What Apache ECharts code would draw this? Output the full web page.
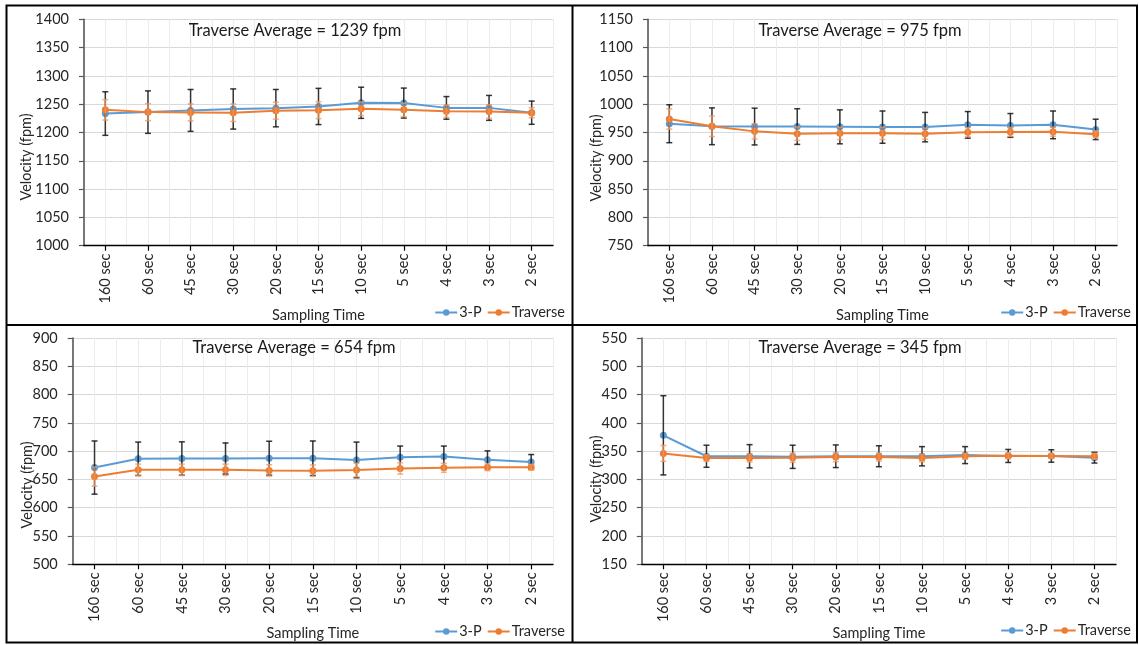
<!DOCTYPE html>
<html>
<head>
<meta charset="utf-8">
<script src="https://cdn.jsdelivr.net/npm/echarts@6/dist/echarts.min.js"></script>
<style>
html,body{margin:0;padding:0;background:#fff;}
#chart{width:1139px;height:645px;}
</style>
</head>
<body>
<div id="chart"></div>
<script>
const categories = ['160 sec','60 sec','45 sec','30 sec','20 sec','15 sec','10 sec','5 sec','4 sec','3 sec','2 sec'];

const titles = ['Traverse Average = 1239 fpm','Traverse Average = 975 fpm','Traverse Average = 654 fpm','Traverse Average = 345 fpm'];
const xAxisName = 'Sampling Time';
const yAxisName = 'Velocity (fpm)';
const seriesNames = ['3-P', 'Traverse'];

const p1ThreeP    = [1233.5, 1236, 1239, 1241.5, 1243, 1246, 1252.5, 1252, 1243.5, 1243.5, 1235];
const p1ThreePErr = [38.5, 37.5, 37, 35.5, 33, 32, 27.5, 26.5, 20, 22, 20.5];
const p1Trav      = [1240, 1236, 1235.5, 1235, 1238.5, 1239.5, 1242, 1240, 1237.5, 1237, 1235];
const p1TravErr   = [18, 15, 15, 15.5, 15, 15, 12, 12, 11, 12, 9];

const p2ThreeP    = [965.5, 961, 960.5, 960.5, 960, 959.5, 959.5, 963.5, 962.5, 963.5, 955.5];
const p2ThreePErr = [33.5, 32.5, 32.5, 31.5, 30, 28.5, 26, 23.5, 21, 24.5, 18];
const p2Trav      = [974, 961, 952, 948, 948.5, 948.5, 948, 950.5, 951, 951.5, 947];
const p2TravErr   = [18, 18, 13.5, 12, 11, 11, 10, 8, 8, 8, 6];

const p3ThreeP    = [671, 686.5, 687, 687, 687.5, 687.5, 684.5, 689, 690.5, 685, 681];
const p3ThreePErr = [47, 29.5, 29.5, 27.5, 30, 30.5, 31.5, 20, 18.5, 15.5, 13];
const p3Trav      = [655, 667, 667, 667, 666, 665.5, 666.5, 669.5, 670.5, 671.5, 671.5];
const p3TravErr   = [17, 10, 10, 10, 10, 10, 12, 10, 8, 6, 5];

const p4ThreeP    = [378, 341, 341, 340, 341, 341, 341, 343, 341.5, 341.5, 338.5];
const p4ThreePErr = [70, 19.5, 20.5, 20.5, 20, 18.5, 17, 15, 11.5, 11, 9.5];
const p4Trav      = [346, 338, 338, 338.5, 339.5, 339.5, 338, 341, 342, 341.5, 341];
const p4TravErr   = [14, 6, 7, 8, 8, 7, 7, 5, 5, 4, 5];

const yMins = [1000, 750, 500, 150];
const yMaxs = [1400, 1150, 900, 550];
const yInterval = 50;

const panels = [
  {tp: p1ThreeP, tpe: p1ThreePErr, tr: p1Trav, tre: p1TravErr},
  {tp: p2ThreeP, tpe: p2ThreePErr, tr: p2Trav, tre: p2TravErr},
  {tp: p3ThreeP, tpe: p3ThreePErr, tr: p3Trav, tre: p3TravErr},
  {tp: p4ThreeP, tpe: p4ThreePErr, tr: p4Trav, tre: p4TravErr}
];

// layout (pixels)
const layout = [
  {left: 84,    top: 19.3, width: 469,   height: 226.4, titleX: 290, titleY: 17,  yNameX: 26,  yNameY: 157, legendRight: 574, legendY: 305},
  {left: 648,   top: 19.3, width: 469,   height: 226.4, titleX: 855, titleY: 17,  yNameX: 596, yNameY: 158, legendRight: 8,   legendY: 305},
  {left: 72.7,  top: 338,  width: 480.3, height: 226.3, titleX: 289, titleY: 334, yNameX: 27,  yNameY: 485, legendRight: 574, legendY: 624},
  {left: 641.8, top: 338,  width: 474.2, height: 226.3, titleX: 855, titleY: 334, yNameX: 596, yNameY: 479, legendRight: 8,   legendY: 623}
];

const BLUE = '#5B9BD5', ORANGE = '#ED7D31';
const FONT = 'Lato, "Open Sans", sans-serif';
const FS = 14.5;

function errRender(color, width, cap) {
  return function (params, api) {
    const x = api.value(0), v = api.value(1), e = api.value(2);
    const hi = api.coord([x, v + e]);
    const lo = api.coord([x, v - e]);
    const st = {stroke: color, lineWidth: width};
    return {
      type: 'group',
      children: [
        {type: 'line', shape: {x1: hi[0], y1: hi[1], x2: lo[0], y2: lo[1]}, style: st},
        {type: 'line', shape: {x1: hi[0] - cap, y1: hi[1], x2: hi[0] + cap, y2: hi[1]}, style: st},
        {type: 'line', shape: {x1: lo[0] - cap, y1: lo[1], x2: lo[0] + cap, y2: lo[1]}, style: st}
      ]
    };
  };
}

const grid = [], xAxis = [], yAxis = [], series = [], title = [], legend = [], graphic = [];

layout.forEach((L, i) => {
  grid.push({left: L.left, top: L.top, width: L.width, height: L.height, containLabel: false});
  xAxis.push({
    type: 'category', gridIndex: i, data: categories, boundaryGap: true,
    name: xAxisName, nameLocation: 'middle', nameGap: 60,
    nameTextStyle: {fontFamily: FONT, fontSize: FS, color: '#262626'},
    axisLine: {show: true, lineStyle: {color: '#000', width: 1.3}},
    axisTick: {show: true, alignWithLabel: true, length: 5, lineStyle: {color: '#000', width: 1.2}},
    axisLabel: {rotate: 90, margin: 8, fontFamily: FONT, fontSize: FS, color: '#262626', interval: 0},
    splitLine: {show: false}, z: 5
  });
  xAxis.push({
    type: 'value', gridIndex: i, min: 0, max: 11, interval: 0.5, position: 'top',
    axisLine: {show: false}, axisTick: {show: false}, axisLabel: {show: false},
    splitLine: {show: true, lineStyle: {color: '#ececec', width: 1}}, z: 0
  });
  yAxis.push({
    type: 'value', gridIndex: i, min: yMins[i], max: yMaxs[i], interval: yInterval,
    axisLine: {show: true, lineStyle: {color: '#595959', width: 1.6}},
    axisTick: {show: true, length: 5, lineStyle: {color: '#595959', width: 1.2}},
    axisLabel: {margin: 15, fontFamily: FONT, fontSize: FS, color: '#262626', formatter: v => String(v)},
    splitLine: {show: true, lineStyle: {color: '#d9d9d9', width: 1}}
  });
  title.push({
    text: titles[i], left: L.titleX, top: L.titleY, textAlign: 'center',
    textStyle: {fontFamily: FONT, fontSize: 16.5, fontWeight: 'normal', color: '#1a1a1a'}
  });
  legend.push({
    data: seriesNames, right: L.legendRight, top: L.legendY, padding: 0,
    itemWidth: 22, itemHeight: 8, itemGap: 5, selectedMode: false,
    textStyle: {fontFamily: FONT, fontSize: FS, color: '#262626', padding: [0, 0, 0, -3]}
  });
  graphic.push({
    type: 'text', x: L.yNameX, y: L.yNameY, rotation: Math.PI / 2,
    style: {text: yAxisName, font: FS + 'px ' + FONT, fill: '#262626', textAlign: 'center', textVerticalAlign: 'middle'}
  });

  const P = panels[i];
  const xi = 2 * i;
  series.push({
    name: seriesNames[0], type: 'line', xAxisIndex: xi, yAxisIndex: i, data: P.tp,
    symbol: 'circle', symbolSize: 7, color: BLUE,
    lineStyle: {width: 2, color: BLUE}, itemStyle: {color: BLUE}, z: 2, animation: false
  });
  series.push({
    name: '3-P err', type: 'custom', xAxisIndex: xi, yAxisIndex: i,
    data: P.tp.map((v, k) => [k, v, P.tpe[k]]),
    renderItem: errRender('rgba(20,20,20,0.85)', 1.5, 3), z: 3, animation: false, silent: true
  });
  series.push({
    name: seriesNames[1], type: 'line', xAxisIndex: xi, yAxisIndex: i, data: P.tr,
    symbol: 'circle', symbolSize: 7, color: ORANGE,
    lineStyle: {width: 2, color: ORANGE}, itemStyle: {color: ORANGE}, z: 4, animation: false
  });
  series.push({
    name: 'Traverse err', type: 'custom', xAxisIndex: xi, yAxisIndex: i,
    data: P.tr.map((v, k) => [k, v, P.tre[k]]),
    renderItem: errRender('rgba(240,150,90,0.75)', 1.5, 3), z: 5, animation: false, silent: true
  });
});

graphic.push(
  {type: 'rect', shape: {x: 6.5, y: 5.5, width: 1130.5, height: 637}, style: {fill: null, stroke: '#000', lineWidth: 2}, z: 100},
  {type: 'line', shape: {x1: 572.5, y1: 5.5, x2: 572.5, y2: 642.5}, style: {stroke: '#000', lineWidth: 2}, z: 100},
  {type: 'line', shape: {x1: 6.5, y1: 325, x2: 1137, y2: 325}, style: {stroke: '#000', lineWidth: 2}, z: 100}
);

const chart = echarts.init(document.getElementById('chart'), null, {renderer: 'canvas'});
chart.setOption({
  backgroundColor: '#fff',
  animation: false,
  title, grid, xAxis, yAxis, legend, series, graphic
});
</script>
</body>
</html>
